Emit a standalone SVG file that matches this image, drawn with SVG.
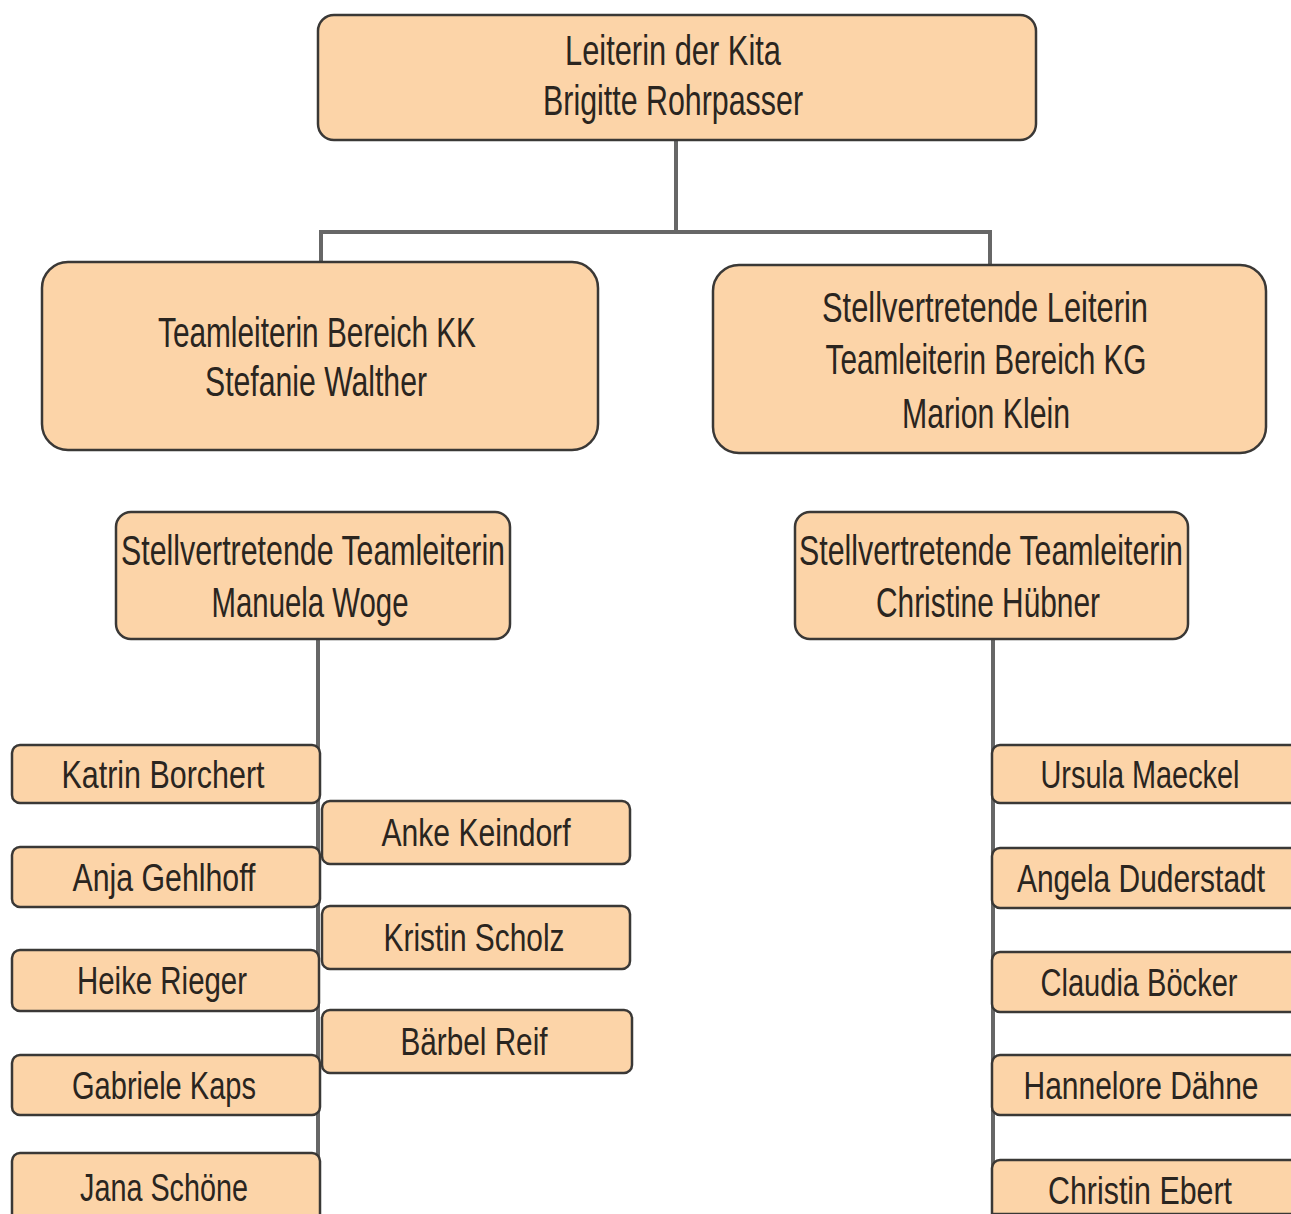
<svg xmlns="http://www.w3.org/2000/svg" width="1291" height="1214" viewBox="0 0 1291 1214">
<style>
.box{fill:#FCD4A8;stroke:#3a3836;stroke-width:2.5}
.con{stroke:#676767;stroke-width:4;fill:none}
text{font-family:"Liberation Sans",Arial,sans-serif;fill:#2a2520;text-anchor:middle}
.big{font-size:43px}
.mem{font-size:38px}
</style>
<rect width="1291" height="1214" fill="#ffffff"/>
<g id="connectors">
<path class="con" d="M676 140 V232 M321 232 H990 M321 230 V262 M990 230 V265"/>
<path class="con" d="M318 639 V1214"/>
<path class="con" d="M993 639 V1214"/>
</g>
<g id="leiterin">
<rect class="box" x="318" y="15" width="718" height="125" rx="16"/>
<text class="big" x="673" y="65" textLength="216" lengthAdjust="spacingAndGlyphs">Leiterin der Kita</text>
<text class="big" x="673" y="115" textLength="260" lengthAdjust="spacingAndGlyphs">Brigitte Rohrpasser</text>
</g>
<g id="teamleiterin-kk">
<rect class="box" x="42" y="262" width="556" height="188" rx="26"/>
<text class="big" x="317" y="347" textLength="318" lengthAdjust="spacingAndGlyphs">Teamleiterin Bereich KK</text>
<text class="big" x="316" y="396" textLength="222" lengthAdjust="spacingAndGlyphs">Stefanie Walther</text>
</g>
<g id="teamleiterin-kg">
<rect class="box" x="713" y="265" width="553" height="188" rx="26"/>
<text class="big" x="985" y="322" textLength="326" lengthAdjust="spacingAndGlyphs">Stellvertretende Leiterin</text>
<text class="big" x="986" y="374" textLength="321" lengthAdjust="spacingAndGlyphs">Teamleiterin Bereich KG</text>
<text class="big" x="986" y="428" textLength="168" lengthAdjust="spacingAndGlyphs">Marion Klein</text>
</g>
<g id="stv-woge">
<rect class="box" x="116" y="512" width="394" height="127" rx="15"/>
<text class="big" x="313" y="565" textLength="384" lengthAdjust="spacingAndGlyphs">Stellvertretende Teamleiterin</text>
<text class="big" x="310" y="617" textLength="197" lengthAdjust="spacingAndGlyphs">Manuela  Woge</text>
</g>
<g id="stv-huebner">
<rect class="box" x="795" y="512" width="393" height="127" rx="15"/>
<text class="big" x="991" y="565" textLength="384" lengthAdjust="spacingAndGlyphs">Stellvertretende Teamleiterin</text>
<text class="big" x="988" y="617" textLength="224" lengthAdjust="spacingAndGlyphs">Christine Hübner</text>
</g>
<g id="katrin-borchert">
<rect class="box" x="12" y="745" width="308" height="58" rx="8"/>
<text class="mem" x="163" y="788" textLength="203" lengthAdjust="spacingAndGlyphs">Katrin Borchert</text>
</g>
<g id="anja-gehlhoff">
<rect class="box" x="12" y="847" width="308" height="60" rx="8"/>
<text class="mem" x="164" y="891" textLength="183" lengthAdjust="spacingAndGlyphs">Anja Gehlhoff</text>
</g>
<g id="heike-rieger">
<rect class="box" x="12" y="950" width="307" height="61" rx="8"/>
<text class="mem" x="162" y="994" textLength="170" lengthAdjust="spacingAndGlyphs">Heike Rieger</text>
</g>
<g id="gabriele-kaps">
<rect class="box" x="12" y="1055" width="308" height="60" rx="8"/>
<text class="mem" x="164" y="1099" textLength="184" lengthAdjust="spacingAndGlyphs">Gabriele Kaps</text>
</g>
<g id="jana-schoene">
<path class="box" d="M12 1214 V1161 A8 8 0 0 1 20 1153 H312 A8 8 0 0 1 320 1161 V1214"/>
<text class="mem" x="164" y="1201" textLength="168" lengthAdjust="spacingAndGlyphs">Jana Schöne</text>
</g>
<g id="anke-keindorf">
<rect class="box" x="322" y="801" width="308" height="63" rx="8"/>
<text class="mem" x="476" y="846" textLength="189" lengthAdjust="spacingAndGlyphs">Anke Keindorf</text>
</g>
<g id="kristin-scholz">
<rect class="box" x="322" y="906" width="308" height="63" rx="8"/>
<text class="mem" x="474" y="951" textLength="181" lengthAdjust="spacingAndGlyphs">Kristin Scholz</text>
</g>
<g id="baerbel-reif">
<rect class="box" x="322" y="1010" width="310" height="63" rx="8"/>
<text class="mem" x="474" y="1055" textLength="147" lengthAdjust="spacingAndGlyphs">Bärbel Reif</text>
</g>
<g id="ursula-maeckel">
<path class="box" d="M1291 745 H1000 A8 8 0 0 0 992 753 V795 A8 8 0 0 0 1000 803 H1291"/>
<text class="mem" x="1140" y="788" textLength="199" lengthAdjust="spacingAndGlyphs">Ursula Maeckel</text>
</g>
<g id="angela-duderstadt">
<path class="box" d="M1291 848 H1000 A8 8 0 0 0 992 856 V900 A8 8 0 0 0 1000 908 H1291"/>
<text class="mem" x="1141" y="892" textLength="248" lengthAdjust="spacingAndGlyphs">Angela Duderstadt</text>
</g>
<g id="claudia-boecker">
<path class="box" d="M1291 952 H1000 A8 8 0 0 0 992 960 V1004 A8 8 0 0 0 1000 1012 H1291"/>
<text class="mem" x="1139" y="996" textLength="197" lengthAdjust="spacingAndGlyphs">Claudia Böcker</text>
</g>
<g id="hannelore-daehne">
<path class="box" d="M1291 1055 H1000 A8 8 0 0 0 992 1063 V1107 A8 8 0 0 0 1000 1115 H1291"/>
<text class="mem" x="1141" y="1099" textLength="235" lengthAdjust="spacingAndGlyphs">Hannelore Dähne</text>
</g>
<g id="christin-ebert">
<path class="box" d="M1291 1160 H1000 A8 8 0 0 0 992 1168 V1214 H1291"/>
<text class="mem" x="1140" y="1204" textLength="184" lengthAdjust="spacingAndGlyphs">Christin Ebert</text>
</g>
</svg>
